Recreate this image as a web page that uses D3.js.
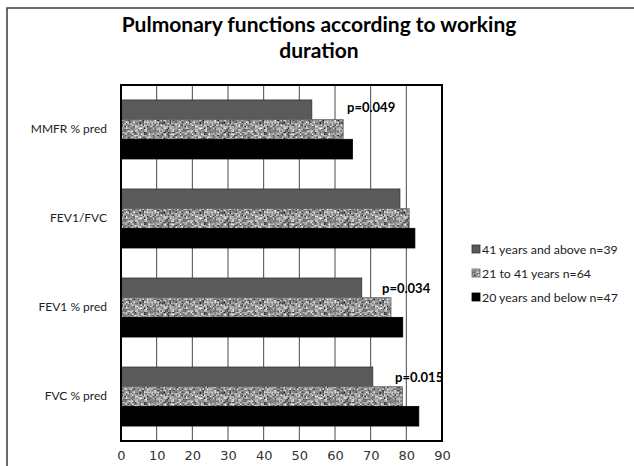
<!DOCTYPE html>
<html><head><meta charset="utf-8">
<script src="https://cdn.jsdelivr.net/npm/d3@7"></script>
<style>body{margin:0;background:#fff}svg{display:block}</style>
</head><body>
<script>
const categories = ["MMFR % pred", "FEV1/FVC", "FEV1 % pred", "FVC % pred"];
const seriesNames = ["41 years and above n=39", "21 to 41 years n=64", "20 years and below n=47"];
const s41above = [53.5, 78.2, 67.5, 70.6];
const s21to41 = [62.3, 80.8, 75.7, 78.9];
const s20below = [64.9, 82.4, 79.0, 83.5];
const pLabels = ["p=0.049", "", "p=0.034", "p=0.015"];
const xTicks = [0,10,20,30,40,50,60,70,80,90];

(function(){
const W = 634, H = 466;
const svg = d3.select("body").append("svg").attr("width", W).attr("height", H);
const defs = svg.append("defs");

// deterministic speckle texture
const PW = 60, PH = 30, CS = 1.5;
const pat = defs.append("pattern").attr("id","speckle").attr("patternUnits","userSpaceOnUse")
  .attr("width",PW).attr("height",PH);
pat.append("rect").attr("width",PW).attr("height",PH).attr("fill","#9a9a9a");
let seed = 987654;
function lcg(){ seed = (seed*1103515245 + 12345) % 2147483648; return seed/2147483648; }
for (let yy=0; yy<PH; yy+=CS) for (let xx=0; xx<PW; xx+=CS) {
  const r = (lcg()+lcg()+lcg())/3;
  const v = Math.max(0, Math.min(255, Math.round((r-0.5)*2*150 + 150)));
  pat.append("rect").attr("x",xx).attr("y",yy).attr("width",CS).attr("height",CS).attr("fill",d3.rgb(v,v,v).formatHex());
}

// outer frame
svg.append("path").attr("d","M7,466 V8 H634").attr("fill","none").attr("stroke","#3a3a3a").attr("stroke-width",1.5);

// title
const title = svg.append("text").attr("x",319).attr("text-anchor","middle")
  .style("font-family","Lato, 'Open Sans', sans-serif").style("font-weight","bold").style("font-size","21px").attr("fill","#000");
title.append("tspan").attr("x",319).attr("y",32).text("Pulmonary functions according to working");
title.append("tspan").attr("x",319).attr("y",58).text("duration");

const pl = 121, pr = 442, pt = 85, pb = 441;
const x = d3.scaleLinear().domain([0,90]).range([pl,pr]);
const y = d3.scaleBand().domain(categories).range([pt,pb]).paddingInner(0.337).paddingOuter(0.168);
const inner = d3.scaleBand().domain(seriesNames).range([0,y.bandwidth()]);

// gridlines
svg.append("g").selectAll("line").data(xTicks.slice(1)).join("line")
  .attr("x1",d=>x(d)).attr("x2",d=>x(d)).attr("y1",pt).attr("y2",pb)
  .attr("stroke","#4a4a4a").attr("stroke-width",1);

const fills = ["#5a5a5a","url(#speckle)","#000000"];
const strokes = ["#333","#666","#000"];
const series = [s41above, s21to41, s20below];
series.forEach((vals,si)=>{
  svg.append("g").selectAll("rect").data(categories).join("rect")
    .attr("x",x(0)).attr("y",(c)=>y(c)+inner(seriesNames[si]))
    .attr("width",(c,i)=>x(vals[i])-x(0)).attr("height",inner.bandwidth())
    .attr("fill",fills[si]).attr("stroke",strokes[si]).attr("stroke-width",0.8);
});

// plot border
svg.append("rect").attr("x",pl).attr("y",pt).attr("width",pr-pl).attr("height",pb-pt)
  .attr("fill","none").attr("stroke","#000").attr("stroke-width",2);

// p labels
svg.append("g").selectAll("text").data(categories).join("text")
  .attr("x",(c,i)=> [347,0,382,395][i])
  .attr("y",(c,i)=> y(c) + inner(seriesNames[0]) + inner.bandwidth()/2 + 5 + (i===0?-3:0))
  .style("font-family","Lato, sans-serif").style("font-weight","bold").style("font-size","13px")
  .text((c,i)=>pLabels[i]);

// x axis
const xAxis = svg.append("g").attr("transform",`translate(0,${pb})`)
  .call(d3.axisBottom(x).tickValues(xTicks).tickSize(0).tickPadding(10));
xAxis.select(".domain").remove();
xAxis.selectAll("text").style("font-family","'DejaVu Sans', sans-serif").style("font-size","13px").attr("fill","#333");

// y axis
const yAxis = svg.append("g").attr("transform",`translate(${pl},0)`)
  .call(d3.axisLeft(y).tickSize(0).tickPadding(14));
yAxis.select(".domain").remove();
yAxis.selectAll("text").style("font-family","Lato, sans-serif").style("font-size","12px").attr("fill","#222");

// legend
const leg = svg.append("g").selectAll("g").data([0,1,2]).join("g")
  .attr("transform",(d,i)=>`translate(472,${249+i*24})`);
leg.append("rect").attr("x",0).attr("y",-4).attr("width",8).attr("height",8)
  .attr("fill",d=>fills[d]).attr("stroke",d=>strokes[d]).attr("stroke-width",0.8);
leg.append("text").attr("x",10).attr("y",4.5)
  .style("font-family","Lato, sans-serif").style("font-size","12.3px").attr("fill","#222")
  .text(d=>seriesNames[d]);
})();
</script>
</body></html>
